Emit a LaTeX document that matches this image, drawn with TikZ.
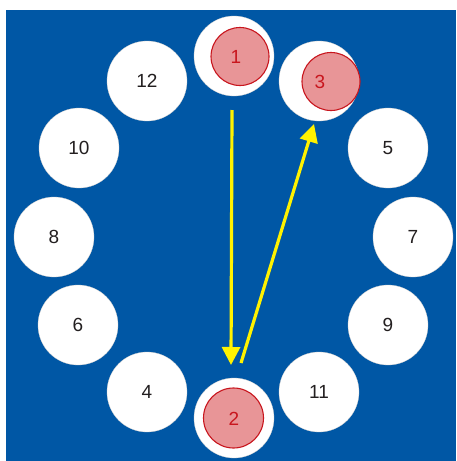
\documentclass[tikz,border=0pt]{standalone}
\usepackage{fontspec}
\setmainfont{Liberation Sans}
\usetikzlibrary{arrows.meta}
\definecolor{bgblue}{HTML}{0057A5}
\definecolor{pinkfill}{HTML}{E89597}
\definecolor{redline}{HTML}{C8161E}
\definecolor{arrowyellow}{HTML}{FFF200}
\definecolor{txtgray}{HTML}{231F20}
\tikzset{
  seat/.style={circle, fill=white, draw=gray!40, line width=0.3pt, minimum size=80pt, inner sep=0pt, font=\fontsize{19}{19}\selectfont, text=txtgray},
  marker/.style={circle, fill=pinkfill, draw=redline, line width=1.1pt, minimum size=58pt, inner sep=0pt},
  redlabel/.style={font=\fontsize{19}{19}\selectfont, text=redline},
  movearrow/.style={draw=arrowyellow, line width=3.2pt, -{Triangle[length=18pt,width=18pt]}}
}
\begin{document}
\begin{tikzpicture}[x=1pt,y=-1pt]
\useasboundingbox (0,0) rectangle (456,461);
\fill[bgblue] (6,10) rectangle (456,461);
% seats
\node[seat] (s1) at (234,56) {};
\node[seat] (s12) at (147,81) {12};
\node[seat] (s3) at (319,81) {};
\node[seat] (s10) at (79,148) {10};
\node[seat] (s5) at (388,148) {5};
\node[seat] (s8) at (54,237) {8};
\node[seat] (s7) at (413,237) {7};
\node[seat] (s6) at (78,325) {6};
\node[seat] (s9) at (388,325) {9};
\node[seat] (s4) at (147,392) {4};
\node[seat] (s11) at (319,392) {11};
\node[seat] (s2) at (234,418) {};
% markers
\node[marker] (m1) at (240,56.5) {};
\node[marker] (m3) at (331,81.5) {};
\node[marker, minimum size=60pt] (m2) at (233.5,418) {};
\node[redlabel] (l1) at (236,57) {1};
\node[redlabel] (l3) at (320,82) {3};
\node[redlabel] (l2) at (234,419) {2};
% arrows
\coordinate (a1s) at (232,110);
\coordinate (a1e) at (231,365);
\coordinate (a2s) at (241,363);
\coordinate (a2e) at (314,124);
\draw[movearrow] (a1s) -- (a1e);
\draw[movearrow] (a2s) -- (a2e);
\end{tikzpicture}
\end{document}
